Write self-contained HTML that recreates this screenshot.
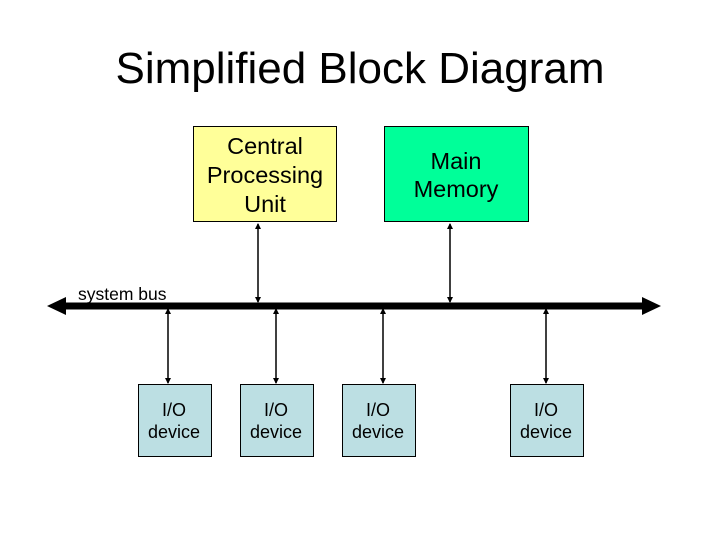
<!DOCTYPE html>
<html><head><meta charset="utf-8"><style>
html,body{margin:0;padding:0;background:#fff;}
svg{display:block;font-family:"Liberation Sans",Arial,sans-serif;}
</style></head><body>
<svg width="720" height="540" viewBox="0 0 720 540" xmlns="http://www.w3.org/2000/svg">
<defs>
<marker id="a" markerWidth="6" markerHeight="6" refX="5" refY="3" orient="auto-start-reverse" markerUnits="userSpaceOnUse">
<path d="M0,0 L6,3 L0,6 z" fill="#000"/></marker>
</defs>
<text x="360" y="83" font-size="44" text-anchor="middle" fill="#000">Simplified Block Diagram</text>
<rect x="193.5" y="126.5" width="143" height="95" fill="#FFFF99" stroke="#000" stroke-width="1"/>
<text font-size="23.5" text-anchor="middle" fill="#000"><tspan x="265" y="154">Central</tspan><tspan x="265" y="183">Processing</tspan><tspan x="265" y="212">Unit</tspan></text>
<rect x="384.5" y="126.5" width="144" height="95" fill="#00FF99" stroke="#000" stroke-width="1"/>
<text font-size="23.5" text-anchor="middle" fill="#000"><tspan x="456" y="169">Main</tspan><tspan x="456" y="197">Memory</tspan></text>
<text x="78" y="300" font-size="17.5" fill="#000">system bus</text>
<rect x="62" y="302.5" width="584" height="7" fill="#000"/>
<path d="M47,306 L66,297 L66,315 z" fill="#000"/>
<path d="M661,306 L642,297 L642,315 z" fill="#000"/>
<g stroke="#000" stroke-width="1.5">
<line x1="258" y1="224" x2="258" y2="302" marker-start="url(#a)" marker-end="url(#a)"/>
<line x1="450" y1="224" x2="450" y2="302" marker-start="url(#a)" marker-end="url(#a)"/>
<line x1="168" y1="309" x2="168" y2="383" marker-start="url(#a)" marker-end="url(#a)"/>
<line x1="276" y1="309" x2="276" y2="383" marker-start="url(#a)" marker-end="url(#a)"/>
<line x1="383" y1="309" x2="383" y2="383" marker-start="url(#a)" marker-end="url(#a)"/>
<line x1="546" y1="309" x2="546" y2="383" marker-start="url(#a)" marker-end="url(#a)"/>
</g>
<g fill="#BCDFE3" stroke="#000" stroke-width="1">
<rect x="138.5" y="384.5" width="73" height="72"/>
<rect x="240.5" y="384.5" width="73" height="72"/>
<rect x="342.5" y="384.5" width="73" height="72"/>
<rect x="510.5" y="384.5" width="73" height="72"/>
</g>
<g font-size="18" text-anchor="middle" fill="#000">
<text><tspan x="174" y="416">I/O</tspan><tspan x="174" y="438">device</tspan></text>
<text><tspan x="276" y="416">I/O</tspan><tspan x="276" y="438">device</tspan></text>
<text><tspan x="378" y="416">I/O</tspan><tspan x="378" y="438">device</tspan></text>
<text><tspan x="546" y="416">I/O</tspan><tspan x="546" y="438">device</tspan></text>
</g>
</svg>
</body></html>
